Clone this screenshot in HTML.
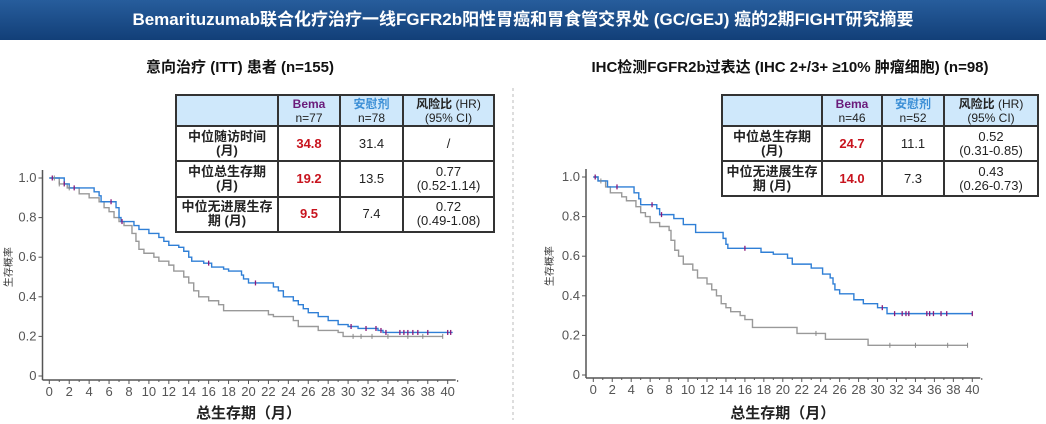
<!DOCTYPE html>
<html><head><meta charset="utf-8">
<style>
body{margin:0;width:1046px;height:424px;background:#fff;overflow:hidden;font-family:"Liberation Sans","Noto Sans CJK SC",sans-serif;position:relative}
.hdr{position:absolute;left:0;top:0;width:1046px;height:40px;background:linear-gradient(#275d9c,#123f78);color:#fff;font-weight:bold;font-size:17px;text-align:center;line-height:40px}
.sub{position:absolute;top:56px;font-weight:bold;font-size:15px;color:#111;text-align:center}
table{position:absolute;border-collapse:collapse;font-size:12px;text-align:center;color:#222;background:#fff}
td{border:2px solid #333;padding:0;line-height:14px}
tr.h td{background:#cfe8fb}
tr:not(.h) td{font-size:13px}
.red{color:#c8141e;font-weight:bold;font-size:13px}
.b{font-weight:bold}
</style></head><body>
<div class="hdr">Bemarituzumab联合化疗治疗一线FGFR2b阳性胃癌和胃食管交界处 (GC/GEJ) 癌的2期FIGHT研究摘要</div>
<div class="sub" style="left:60px;width:360px">意向治疗 (ITT) 患者 (n=155)</div>
<div class="sub" style="left:560px;width:460px">IHC检测FGFR2b过表达 (IHC 2+/3+ ≥10% 肿瘤细胞) (n=98)</div>
<svg id="sv" width="1046" height="424" style="position:absolute;left:0;top:0">
<line x1="513" y1="88" x2="513" y2="420" stroke="#bbb" stroke-dasharray="3,3"/>
</svg>
<table style="left:175px;top:94px;width:320px;height:139px">
<tr class="h" style="height:31px"><td style="width:100px"></td><td style="width:60px"><span style="color:#6a1b7a;font-weight:bold">Bema</span><br>n=77</td><td style="width:61px"><span style="color:#3c8fd6;font-weight:bold">安慰剂</span><br>n=78</td><td><b>风险比</b> (HR)<br>(95% CI)</td></tr>
<tr><td class="b">中位随访时间<br>(月)</td><td class="red">34.8</td><td>31.4</td><td>/</td></tr>
<tr><td class="b">中位总生存期<br>(月)</td><td class="red">19.2</td><td>13.5</td><td>0.77<br>(0.52-1.14)</td></tr>
<tr><td class="b">中位无进展生存<br>期 (月)</td><td class="red">9.5</td><td>7.4</td><td>0.72<br>(0.49-1.08)</td></tr>
</table>
<table style="left:721px;top:94px;width:318px;height:103px">
<tr class="h" style="height:31px"><td style="width:98px"></td><td style="width:58px"><span style="color:#6a1b7a;font-weight:bold">Bema</span><br>n=46</td><td style="width:60px"><span style="color:#3c8fd6;font-weight:bold">安慰剂</span><br>n=52</td><td><b>风险比</b> (HR)<br>(95% CI)</td></tr>
<tr><td class="b">中位总生存期<br>(月)</td><td class="red">24.7</td><td>11.1</td><td>0.52<br>(0.31-0.85)</td></tr>
<tr><td class="b">中位无进展生存<br>期 (月)</td><td class="red">14.0</td><td>7.3</td><td>0.43<br>(0.26-0.73)</td></tr>
</table>
<script>
const xTicks=[0,2,4,6,8,10,12,14,16,18,20,22,24,26,28,30,32,34,36,38,40];
const yTicks=[0,0.2,0.4,0.6,0.8,1.0];
const yTickLabels=["0","0.2","0.4","0.6","0.8","1.0"];
const leftBemaT=[0,1.5,2,4.5,5,5.2,6.7,7,7.2,8.5,9,10,11,11.5,12,13,13.5,14,14.3,15.5,16.3,17.5,18,19.3,19.5,20,22.5,23,23.5,24.5,25,25.5,26,27,28,29,30,31,33,33.5,40.5];
const leftBemaS=[1,0.97,0.95,0.93,0.91,0.88,0.85,0.80,0.78,0.76,0.74,0.72,0.70,0.68,0.66,0.65,0.63,0.60,0.58,0.57,0.55,0.54,0.53,0.51,0.49,0.47,0.45,0.43,0.40,0.38,0.36,0.34,0.32,0.30,0.28,0.26,0.25,0.24,0.23,0.22,0.22];
const leftPlaT=[0,1,1.8,3,4,5,5.5,6,6.5,7,7.5,8.3,8.7,9,9.5,10.5,11,12,12.5,13.5,14,14.5,15,16,17,17.5,22,22.5,24.5,25,27,29,29.5,39.5];
const leftPlaS=[1,0.97,0.95,0.92,0.90,0.88,0.85,0.83,0.80,0.78,0.76,0.72,0.68,0.64,0.62,0.60,0.58,0.56,0.53,0.50,0.47,0.43,0.40,0.38,0.36,0.33,0.31,0.30,0.28,0.25,0.23,0.22,0.20,0.20];
const leftBemaCens=[0.3,1.5,2.5,6.2,7.3,16,20.7,30.3,31.8,32.8,33.3,33.8,35.2,35.6,36,36.5,37,38,40,40.3];
const leftPlaCens=[0.5,1,2,30.5,31.3,32.4,34,36,37.5,39.5];
const rightBemaT=[0,0.5,1.5,4.3,4.8,5,6.7,7,8.5,9.5,10.8,13.7,14,14.2,17.7,19,20.5,21,23,24.2,25,25.3,25.5,26,27.5,28.5,30,31,40];
const rightBemaS=[1,0.98,0.95,0.92,0.89,0.86,0.84,0.81,0.79,0.76,0.72,0.69,0.66,0.64,0.62,0.61,0.59,0.56,0.54,0.51,0.49,0.46,0.43,0.41,0.38,0.36,0.34,0.31,0.31];
const rightPlaT=[0,0.5,1.3,1.8,3,3.5,4.5,5,5.5,6,7,8,8.2,8.6,9,9.5,10.5,11,12,12.5,13,13.5,14,14.5,15.5,16,16.8,21.5,24.5,29,39.5];
const rightPlaS=[1,0.98,0.95,0.92,0.90,0.88,0.85,0.82,0.80,0.77,0.75,0.73,0.68,0.63,0.60,0.56,0.53,0.49,0.46,0.43,0.40,0.36,0.34,0.32,0.30,0.28,0.24,0.21,0.18,0.15,0.15];
const rightBemaCens=[0.2,2.5,6.2,7.2,16,30.5,31.8,32.6,33,33.3,35.2,35.5,35.9,36.7,37.3,40];
const rightPlaCens=[0.8,23.5,31.3,34,37.4,39.5];

const NS='http://www.w3.org/2000/svg';
const sv=document.getElementById('sv');
function mk(tag,attrs,name){const e=document.createElementNS(NS,tag);for(const k in attrs)e.setAttribute(k,attrs[k]);


sv.appendChild(e);return e;}
function chart(cfg,bT,bS,bC,pT,pS,pC,side){
 const X=t=>cfg.x0+t*(cfg.x40-cfg.x0)/40, Y=s=>cfg.y0-s*(cfg.y0-cfg.y1);
 mk('line',{x1:cfg.ax,y1:Y(1)-8,x2:cfg.ax,y2:cfg.base,stroke:'#555','stroke-width':1.5},side+'-y-axis');
 mk('line',{x1:cfg.ax,y1:cfg.base,x2:X(40)+8,y2:cfg.base,stroke:'#555','stroke-width':1.5},side+'-x-axis');
 for(let t=0;t<=41;t++){mk('line',{x1:X(t),y1:cfg.base,x2:X(t),y2:cfg.base+(t%2?2:4),stroke:'#555'},side+'-x-tick');}
 xTicks.forEach(t=>{const e=mk('text',{x:X(t),y:cfg.base+16,'font-size':13,fill:'#555','text-anchor':'middle'},side+'-x-tick-label');e.textContent=t;});
 yTicks.forEach((v,i)=>{mk('line',{x1:cfg.ax-4,y1:Y(v),x2:cfg.ax,y2:Y(v),stroke:'#555'},side+'-y-tick');
  const e=mk('text',{x:cfg.ax-6,y:Y(v)+4,'font-size':13,fill:'#555','text-anchor':'end'},side+'-y-tick-label');e.textContent=yTickLabels[i];});
 const lab=mk('text',{x:cfg.ylx,y:Y(0.55),'font-size':10,fill:'#333','text-anchor':'middle',transform:`rotate(-90 ${cfg.ylx} ${Y(0.55)})`},side+'-y-axis-title');lab.textContent='生存概率';
 const xt=mk('text',{x:(X(0)+X(40))/2,y:418,'font-size':15,'font-weight':'bold',fill:'#222','text-anchor':'middle'},side+'-x-axis-title');xt.textContent='总生存期（月）';
 function step(T,S,col,name){let d=`M${X(T[0])},${Y(S[0])}`;for(let i=1;i<T.length;i++){d+=`H${X(T[i])}V${Y(S[i])}`;}
  mk('path',{d:d,fill:'none',stroke:col,'stroke-width':1.4},name);}
 function sAt(T,S,t){let s=S[0];for(let i=0;i<T.length;i++){if(T[i]<=t)s=S[i];}return s;}
 step(pT,pS,'#999',side+'-placebo-curve');
 step(bT,bS,'#2f7fd6',side+'-bema-curve');
 pC.forEach(t=>{const y=Y(sAt(pT,pS,t));mk('line',{x1:X(t),y1:y-2.5,x2:X(t),y2:y+2.5,stroke:'#888'},side+'-placebo-censor');});
 bC.forEach(t=>{const y=Y(sAt(bT,bS,t));mk('line',{x1:X(t),y1:y-2.5,x2:X(t),y2:y+2.5,stroke:'#8a1a7a','stroke-width':1.3},side+'-bema-censor');});
}
chart({x0:49.3,x40:447.7,y0:376,y1:178,ax:42.5,base:380,ylx:12},leftBemaT,leftBemaS,leftBemaCens,leftPlaT,leftPlaS,leftPlaCens,'left');
chart({x0:593.3,x40:972.3,y0:375,y1:177,ax:586,base:378,ylx:553},rightBemaT,rightBemaS,rightBemaCens,rightPlaT,rightPlaS,rightPlaCens,'right');
</script>
</body></html>
